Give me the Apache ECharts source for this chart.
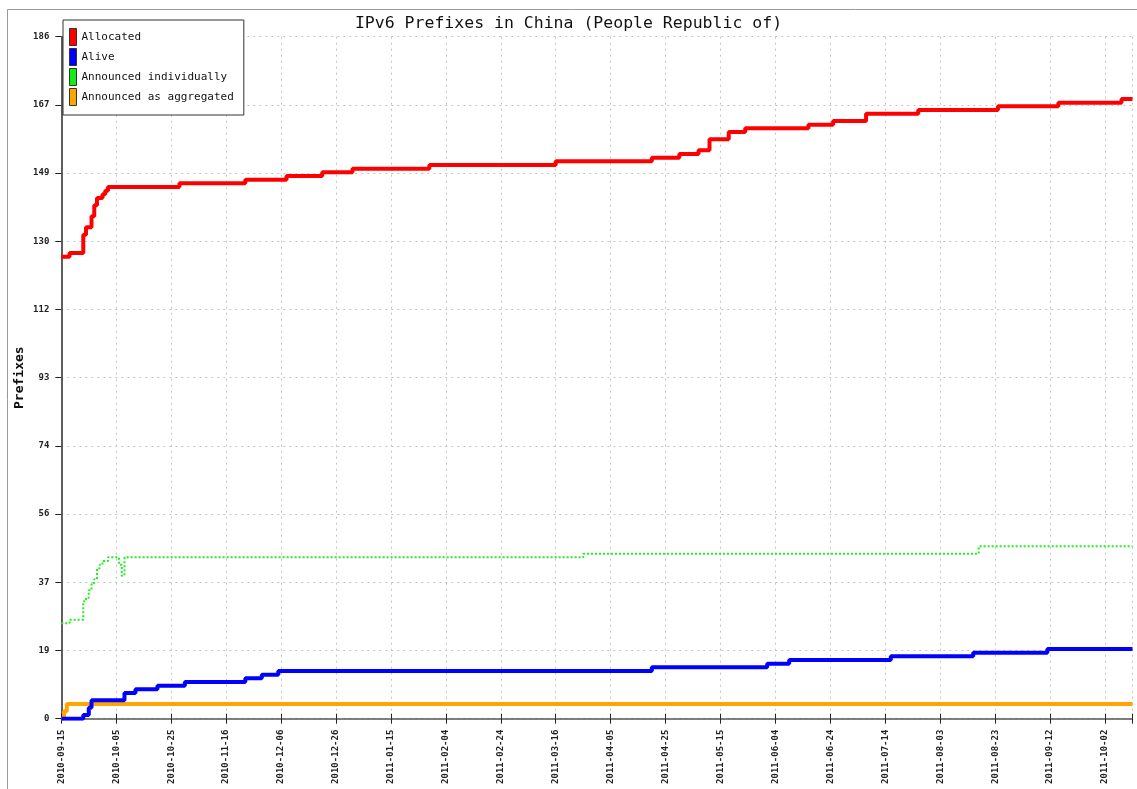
<!DOCTYPE html>
<html>
<head>
<meta charset="utf-8">
<script src="https://cdn.jsdelivr.net/npm/echarts@6/dist/echarts.min.js"></script>
<style>
html, body { margin: 0; padding: 0; background: #fff; }
#main { width: 1137px; height: 789px; }
</style>
</head>
<body>
<div id="main"></div>
<script>
// x 轴刻度 (每 20 个采样点一个)
var tickLabels = ['2010-09-15', '2010-10-05', '2010-10-25', '2010-11-16', '2010-12-06', '2010-12-26',
    '2011-01-15', '2011-02-04', '2011-02-24', '2011-03-16', '2011-04-05', '2011-04-25', '2011-05-15',
    '2011-06-04', '2011-06-24', '2011-07-14', '2011-08-03', '2011-08-23', '2011-09-12', '2011-10-02'];

// 每条线只记录变化点: 天数(从 2010-09-15 起) + 数值
var allocDays = [0, 3, 8, 9, 11, 12, 13, 15, 16, 17, 43, 67, 82, 95, 106, 134, 180, 215, 225, 232, 236, 243, 249, 272, 281, 293, 312, 341, 363, 386, 390];
var allocVals = [126, 127, 132, 134, 137, 140, 142, 143, 144, 145, 146, 147, 148, 149, 150, 151, 152, 153, 154, 155, 158, 160, 161, 162, 163, 165, 166, 167, 168, 169, 169];

var aliveDays = [0, 8, 10, 11, 23, 27, 35, 45, 67, 73, 79, 215, 257, 265, 302, 332, 359, 390];
var aliveVals = [0, 1, 3, 5, 7, 8, 9, 10, 11, 12, 13, 14, 15, 16, 17, 18, 19, 19];

var indivDays = [0, 3, 8, 9, 10, 11, 12, 13, 14, 15, 17, 21, 22, 23, 190, 334, 390];
var indivVals = [26, 27, 32, 33, 35, 37, 38, 41, 42, 43, 44, 42, 39, 44, 45, 47, 47];

var aggrDays = [0, 1, 2, 390];
var aggrVals = [0, 2, 4, 4];

var yMax = 186;
var font = 'DejaVu Sans Mono';

function pairs(days, vals) {
    return days.map(function(d, i) {
        return [d, vals[i]];
    });
}

var mychart = echarts.init(document.getElementById('main'));

var gridLine = {
    show: true,
    lineStyle: { color: '#c4c4c4', type: [2, 4], width: 1 }
};

var option = {
    animation: false,
    backgroundColor: '#fff',
    textStyle: { fontFamily: font },
    graphic: [{
        type: 'rect',
        shape: { x: 7.5, y: 9.5, width: 1200, height: 900 },
        style: { fill: 'none', stroke: '#999', lineWidth: 1 },
        silent: true
    }],
    title: {
        text: 'IPv6 Prefixes in China (People Republic of)',
        left: 'center',
        top: 10,
        textStyle: { fontFamily: font, fontSize: 16.5, fontWeight: 'normal', color: '#111' }
    },
    legend: {
        data: ['Allocated', 'Alive', 'Announced individually', 'Announced as aggregated'],
        orient: 'vertical',
        left: 63,
        top: 20,
        icon: 'rect',
        itemWidth: 7,
        itemHeight: 17,
        itemGap: 2,
        padding: [8, 10, 9, 6],
        backgroundColor: '#fff',
        borderColor: '#333',
        borderWidth: 1,
        borderRadius: 0,
        itemStyle: { borderColor: '#333', borderWidth: 1 },
        textStyle: { fontFamily: font, fontSize: 11, color: '#111' }
    },
    grid: {
        left: 61.3,
        top: 36.7,
        right: 4.5,
        bottom: 70.3
    },
    xAxis: [{
        type: 'value',
        min: 0,
        max: 390,
        interval: 20,
        axisLine: { show: true, onZero: false, lineStyle: { color: '#555', width: 1.5 } },
        axisTick: { show: true, length: 5, lineStyle: { color: '#222', width: 1 } },
        axisLabel: {
            rotate: 90,
            margin: 11,
            fontFamily: font,
            fontSize: 9,
            fontWeight: 'bold',
            color: '#222',
            formatter: function(v) {
                return v % 20 === 0 ? tickLabels[v / 20] : '';
            }
        },
        splitLine: gridLine
    }, {
        // 向内的刻度, 让刻度穿过轴线
        type: 'value',
        min: 0,
        max: 390,
        interval: 20,
        position: 'bottom',
        axisLine: { show: false },
        axisTick: { show: true, inside: true, length: 5, lineStyle: { color: '#222', width: 1 } },
        axisLabel: { show: false },
        splitLine: { show: false }
    }],
    yAxis: [{
        type: 'value',
        min: 0,
        max: yMax,
        interval: yMax / 10,
        name: 'Prefixes',
        nameLocation: 'middle',
        nameGap: 35,
        nameMoveOverlap: false,
        nameTextStyle: { fontFamily: font, fontSize: 13, fontWeight: 'bold', color: '#111' },
        axisLine: { show: true, lineStyle: { color: '#555', width: 1.5 } },
        axisTick: { show: true, length: 6, lineStyle: { color: '#222', width: 1 } },
        axisLabel: {
            margin: 12,
            fontFamily: font,
            fontSize: 9,
            fontWeight: 'bold',
            color: '#222',
            formatter: function(v) {
                return Math.round(v);
            }
        },
        splitLine: gridLine
    }, {
        // 右侧边框
        type: 'value',
        min: 0,
        max: yMax,
        position: 'right',
        axisLine: { show: true, lineStyle: { color: '#555', width: 1.5 } },
        axisTick: { show: false },
        axisLabel: { show: false },
        splitLine: { show: false }
    }],
    series: [{
        name: 'Allocated',
        type: 'line',
        step: 'end',
        showSymbol: false,
        itemStyle: { color: '#ff0000' },
        lineStyle: { color: '#ff0000', width: 4 },
        data: pairs(allocDays, allocVals)
    }, {
        name: 'Announced individually',
        type: 'line',
        step: 'end',
        showSymbol: false,
        itemStyle: { color: '#11ee11' },
        lineStyle: { color: '#22ee22', width: 2, type: [2, 2] },
        data: pairs(indivDays, indivVals)
    }, {
        name: 'Announced as aggregated',
        type: 'line',
        step: 'end',
        showSymbol: false,
        itemStyle: { color: '#ffa500' },
        lineStyle: { color: '#ffa500', width: 4 },
        data: pairs(aggrDays, aggrVals)
    }, {
        name: 'Alive',
        type: 'line',
        step: 'end',
        showSymbol: false,
        itemStyle: { color: '#0000ff' },
        lineStyle: { color: '#0000ff', width: 4 },
        data: pairs(aliveDays, aliveVals)
    }]
};

mychart.setOption(option);
</script>
</body>
</html>
